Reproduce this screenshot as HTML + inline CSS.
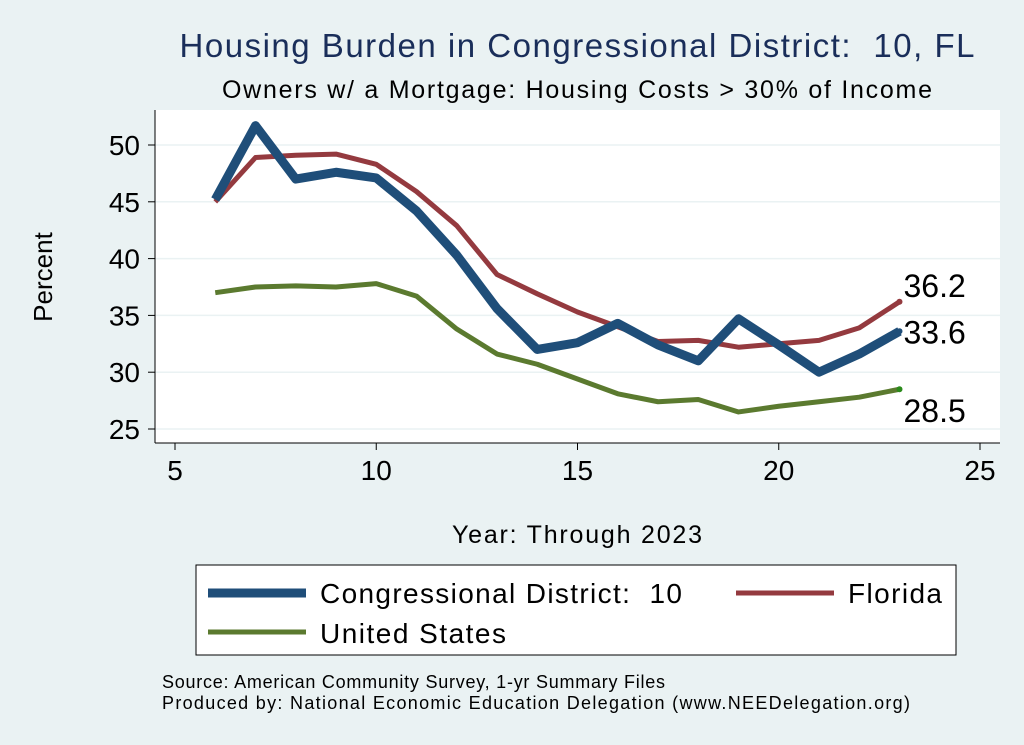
<!DOCTYPE html>
<html><head><meta charset="utf-8"><style>
body{margin:0;background:#eaf2f3;}
svg{display:block;font-family:"Liberation Sans",Arial,sans-serif;}
text{white-space:pre;}
</style></head><body>
<svg id="c" width="1024" height="745">
<rect x="0" y="0" width="1024" height="745" fill="#eaf2f3"/>
<rect x="155" y="110" width="845" height="333" fill="#ffffff"/>
<text x="577" y="57" text-anchor="middle" font-size="33" textLength="795" fill="#1a2e5a">Housing Burden in Congressional District:  10, FL</text>
<text x="577" y="98" text-anchor="middle" font-size="25" textLength="710">Owners w/ a Mortgage: Housing Costs &gt; 30% of Income</text>
<g id="grid"></g><g id="axes"></g><g id="series"></g>
<text x="52" y="277" text-anchor="middle" font-size="26" transform="rotate(-90 52 277)">Percent</text>
<text x="577" y="543" text-anchor="middle" font-size="25" textLength="250">Year: Through 2023</text>
<g>
<rect x="196" y="565" width="760" height="90" fill="#fff" stroke="#000" stroke-width="1"/>
<line x1="208" y1="593" x2="306" y2="593" stroke="#1f4e79" stroke-width="9"/>
<text x="320" y="603" font-size="28" textLength="362">Congressional District:  10</text>
<line x1="736" y1="593" x2="834" y2="593" stroke="#943a3f" stroke-width="5"/>
<text x="848" y="603" font-size="28" textLength="94">Florida</text>
<line x1="208" y1="632" x2="306" y2="632" stroke="#5b7a2f" stroke-width="5"/>
<text x="320" y="643" font-size="28" textLength="186">United States</text>
</g>
<text x="162" y="688" font-size="18" textLength="503">Source: American Community Survey, 1-yr Summary Files</text>
<text x="162" y="709" font-size="18" textLength="748">Produced by: National Economic Education Delegation (www.NEEDelegation.org)</text>
</svg>
<script>
const years=[6,7,8,9,10,11,12,13,14,15,16,17,18,19,20,21,22,23];
const cdValues=[45.2,51.7,47,47.6,47.1,44.2,40.3,35.6,32,32.6,34.3,32.4,31,34.7,32.4,30,31.6,33.6];
const flValues=[45,48.9,49.1,49.2,48.3,45.9,42.9,38.6,36.9,35.3,34,32.7,32.8,32.2,32.5,32.8,33.9,36.2];
const usValues=[37,37.5,37.6,37.5,37.8,36.7,33.8,31.6,30.7,29.4,28.1,27.4,27.6,26.5,27,27.4,27.8,28.5];
const xTicks=[5,10,15,20,25];
const yTicks=[25,30,35,40,45,50];
const NS="http://www.w3.org/2000/svg";
const X=v=>175+(v-5)*40.25;
const Y=v=>145+(50-v)*11.36;
function mk(t,a,p){const e=document.createElementNS(NS,t);for(const k in a)e.setAttribute(k,a[k]);document.getElementById(p).appendChild(e);return e;}
yTicks.forEach(t=>{
 const g=mk('line',{x1:155,x2:1000,y1:Y(t),y2:Y(t),stroke:'#eaf2f3','stroke-width':1.5},'grid');
 
 
 const k=mk('line',{x1:148,x2:155,y1:Y(t),y2:Y(t),stroke:'#000'},'axes');
 
 
 const l=mk('text',{x:140,y:Y(t)+10,'text-anchor':'end','font-size':28},'axes');l.textContent=t;
 
 
});
xTicks.forEach(t=>{
 const k=mk('line',{x1:X(t),x2:X(t),y1:443,y2:450,stroke:'#000'},'axes');
 
 
 const l=mk('text',{x:X(t),y:480,'text-anchor':'middle','font-size':28},'axes');l.textContent=t;
 
 
});
const ax=mk('line',{x1:155,x2:155,y1:110,y2:443,stroke:'#000'},'axes');


const bx=mk('line',{x1:155,x2:1000,y1:443,y2:443,stroke:'#000'},'axes');


function line(vals,color,w,name){
 const p=mk('polyline',{points:vals.map((v,i)=>X(years[i])+','+Y(v)).join(' '),fill:'none',stroke:color,'stroke-width':w,'stroke-linejoin':'round'},'series');
 
 
}
line(usValues,'#5b7a2f',5,'line-us');
line(flValues,'#943a3f',5,'line-florida');
line(cdValues,'#1f4e79',9,'line-cd');
const n=years.length-1;
[[flValues,'#943a3f',-5,'label-fl'],[cdValues,'#1f4e79',12,'label-cd'],[usValues,'#2a8a1a',33,'label-us']].forEach(([v,c,dy,nm])=>{
 const d=mk('circle',{cx:X(years[n]),cy:Y(v[n]),r:3,fill:c},'series');
 
 
 const t=mk('text',{x:X(years[n])+4,y:Y(v[n])+dy,'font-size':32},'series');t.textContent=v[n].toFixed(1);
 
 
});
</script>
</body></html>
